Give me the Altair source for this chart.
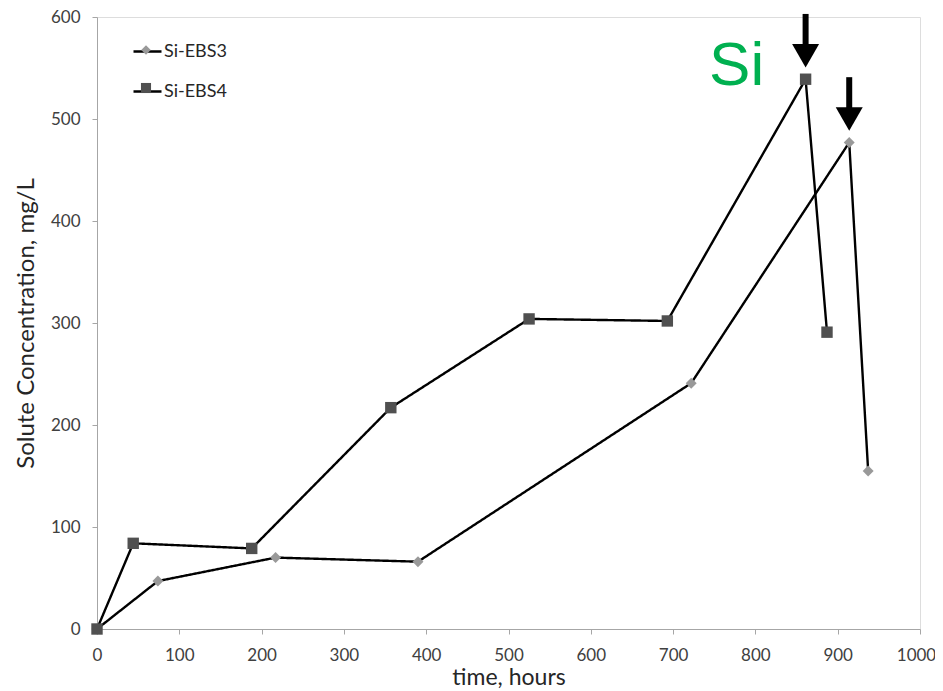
import altair as alt
import pandas as pd

# ---- data ----
series_names = ["Si-EBS3", "Si-EBS4"]
ebs3_time = [0, 74, 217, 390, 722, 914, 937]
ebs3_conc = [0, 47, 70, 66, 241, 477, 155]
ebs4_time = [0, 44, 188, 357, 525, 693, 861, 887]
ebs4_conc = [0, 84, 79, 217, 304, 302, 539, 291]
x_ticks = [0, 100, 200, 300, 400, 500, 600, 700, 800, 900, 1000]
y_ticks = [0, 100, 200, 300, 400, 500, 600]
annotation_text = "Si"

rows = []
for t, c in zip(ebs3_time, ebs3_conc):
    rows.append({"series": series_names[0], "time": t, "conc": c})
for t, c in zip(ebs4_time, ebs4_conc):
    rows.append({"series": series_names[1], "time": t, "conc": c})
df = pd.DataFrame(rows)

peaks = df.loc[df.groupby("series")["conc"].idxmax()].reset_index(drop=True)

FONT = "Lato"
LABEL_COLOR = "#404040"
AXIS_COLOR = "#a6a6a6"

x_enc = alt.X(
    "time:Q",
    scale=alt.Scale(domain=[0, 1000], nice=False),
    axis=alt.Axis(
        values=x_ticks, format="d", title="time, hours", grid=False,
        labelFlush=False, labelOverlap=False,
        labelOffset={"condition": {"test": "datum.value == 1000", "value": -4}, "value": 0},
        domainColor=AXIS_COLOR, tickColor=AXIS_COLOR, tickSize=5,
        labelFont=FONT, labelFontSize=17, labelColor=LABEL_COLOR, labelPadding=13,
        titleFont=FONT, titleFontSize=23, titleFontWeight="normal", titleColor="#262626",
        titlePadding=3,
    ),
)
y_enc = alt.Y(
    "conc:Q",
    scale=alt.Scale(domain=[0, 600], nice=False),
    axis=alt.Axis(
        values=y_ticks, format="d", title="Solute Concentration, mg/L", grid=False,
        labelFlush=False, labelOverlap=False,
        domainColor=AXIS_COLOR, tickColor=AXIS_COLOR, tickSize=5,
        labelFont=FONT, labelFontSize=17, labelColor=LABEL_COLOR, labelPadding=12,
        titleFont=FONT, titleFontSize=24, titleFontWeight="normal", titleColor="#262626",
        titlePadding=12,
    ),
)

base = alt.Chart(df)

LEG = dict(orient="none", legendX=35, legendY=19, title=None, padding=0,
           symbolSize=784, rowPadding=15, labelOffset=1,
           labelFont=FONT, labelFontSize=18)

lines = base.mark_line(color="black", strokeWidth=2.4).encode(
    x=x_enc,
    y=y_enc,
    strokeDash=alt.StrokeDash(
        "series:N",
        scale=alt.Scale(domain=series_names, range=[[1, 0], [1, 0]]),
        legend=alt.Legend(
            symbolType="stroke", symbolStrokeColor="black", symbolStrokeWidth=2.4,
            labelColor="#262626", **LEG,
        ),
    ),
)

points = base.mark_point(filled=True, opacity=1).encode(
    x="time:Q",
    y="conc:Q",
    shape=alt.Shape("series:N", scale=alt.Scale(domain=series_names, range=["diamond", "square"]), legend=None),
    color=alt.Color("series:N", scale=alt.Scale(domain=series_names, range=["#999999", "#505050"]), legend=None),
    size=alt.Size("series:N", scale=alt.Scale(domain=series_names, range=[120, 130]), legend=None),
)

legend_marks = base.mark_point(filled=True, opacity=0).encode(
    x="time:Q",
    y="conc:Q",
    shape=alt.Shape(
        "series:N",
        scale=alt.Scale(
            domain=series_names,
            range=["M0,-0.34L0.34,0L0,0.34L-0.34,0Z", "M-0.36,-0.36L0.36,-0.36L0.36,0.36L-0.36,0.36Z"],
        ),
        legend=alt.Legend(symbolOpacity=1, symbolStrokeWidth=0, labelOpacity=0, **LEG),
    ),
    color=alt.Color(
        "series:N",
        scale=alt.Scale(domain=series_names, range=["#999999", "#505050"]),
        legend=alt.Legend(symbolOpacity=1, symbolStrokeWidth=0, labelOpacity=0, **LEG),
    ),
)

pk = alt.Chart(peaks)
shafts = pk.transform_calculate(
    top="datum.conc + 64", bot="datum.conc + 30"
).mark_rule(color="black", strokeWidth=6).encode(
    x="time:Q", y="top:Q", y2="bot:Q"
)
heads = pk.transform_calculate(h="datum.conc + 23").mark_point(
    shape="triangle-down", filled=True, color="black", opacity=1, size=729
).encode(x="time:Q", y="h:Q")

si_label = pk.transform_filter(
    alt.datum.series == series_names[1]
).mark_text(
    text=annotation_text, dx=-69, dy=-13, fontSize=62, font="Liberation Sans",
    color="#00B050", baseline="middle", align="center",
).encode(x="time:Q", y="conc:Q")

chart = alt.layer(lines, points, legend_marks, shafts, heads, si_label).resolve_scale(
    shape="independent", color="independent", size="independent"
).properties(
    width=823, height=612,
    autosize=alt.AutoSizeParams(type="none"),
    padding={"left": 89, "top": 9, "right": 15, "bottom": 62},
).configure_view(stroke=None).configure(background="white")

chart.save("out.html", embed_options={"renderer": "svg", "actions": False})
